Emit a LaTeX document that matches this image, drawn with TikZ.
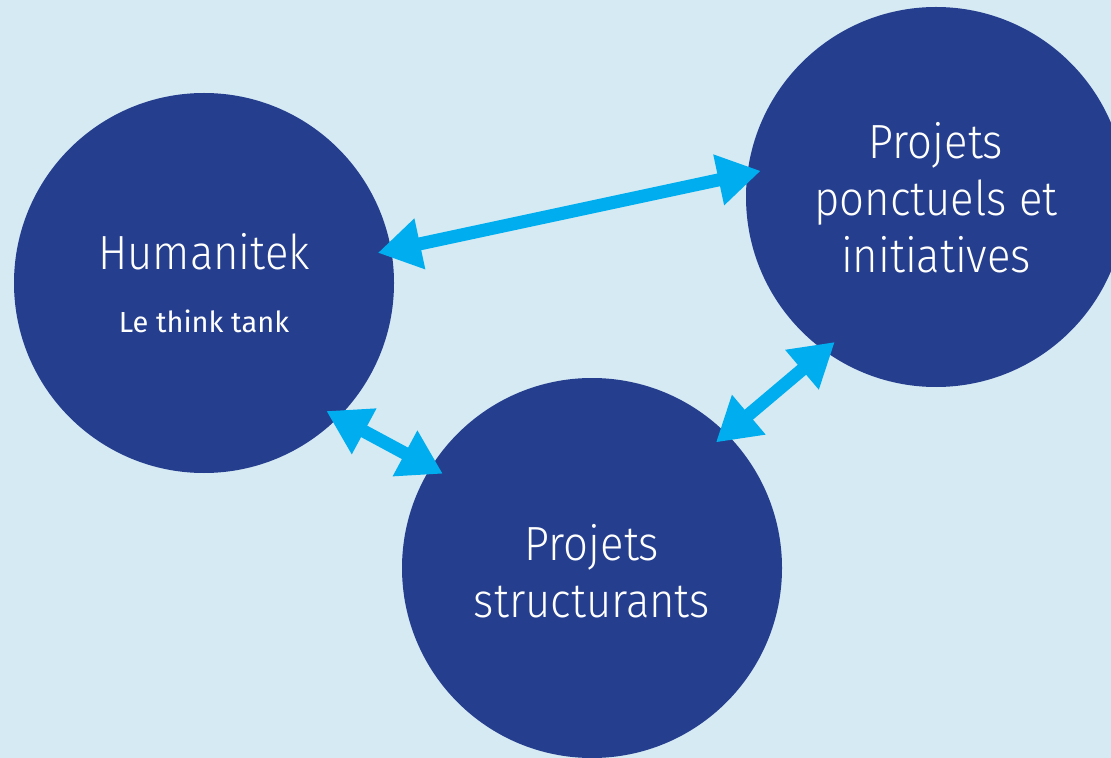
\documentclass[tikz,border=0pt]{standalone}
\usepackage{fontspec}
\setmainfont{Fira Sans Light}[FakeStretch=0.91]
\newfontfamily\subfont{Fira Sans}
\usetikzlibrary{arrows.meta}
\definecolor{bgblue}{HTML}{D6EAF3}
\definecolor{discblue}{HTML}{253E8E}
\definecolor{linkblue}{HTML}{00AEEF}

\begin{document}
\begin{tikzpicture}[x=0.5pt,y=-0.5pt,
  disc/.style={circle, fill=discblue, text=white, minimum size=190pt, inner sep=0pt,
    align=center, font=\fontsize{24}{28.5}\selectfont},
  link/.style={draw=linkblue, line width=6.5pt,
    {Triangle[length=21.5pt,width=24.5pt]}-{Triangle[length=21.5pt,width=24.5pt]},
    shorten <=-7pt, shorten >=-7pt}]
\clip (0,0) rectangle (1111,758);
\fill[bgblue] (0,0) rectangle (1111,758);
% the three circles
\node[disc] (hum) at (204,283) {Humanitek\\[3pt]{\subfont\fontsize{14.5}{17}\selectfont Le think tank}};
\node[disc] (pon) at (936,197) {\rule{0pt}{19pt}Projets\\ponctuels et\\initiatives};
\node[disc] (str) at (592,568) {\rule{0pt}{21pt}Projets\\structurants};
% links
\draw[link] (hum.10) -- (pon.173);
\draw[link] (hum.-45) -- (str.148);
\draw[link] (str.45) -- (pon.-126);
\end{tikzpicture}
\end{document}
